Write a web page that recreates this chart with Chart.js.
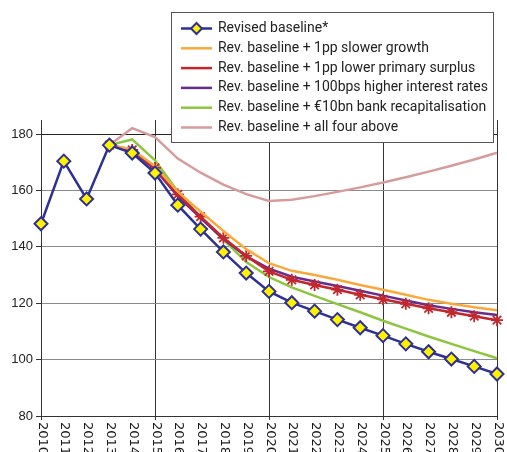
<!DOCTYPE html>
<html>
<head>
<meta charset="utf-8">
<script src="https://cdn.jsdelivr.net/npm/chart.js@4.4.1/dist/chart.umd.min.js"></script>
<style>
  html, body { margin: 0; padding: 0; background: #fff; }
</style>
</head>
<body>
<canvas id="grafico" width="507" height="452"></canvas>
<script>
const years = ["2010", "2011", "2012", "2013", "2014", "2015", "2016", "2017", "2018", "2019", "2020",
  "2021", "2022", "2023", "2024", "2025", "2026", "2027", "2028", "2029", "2030"];

const baseline = [148.2, 170.4, 157.0, 176.1, 173.3, 166.2, 154.8, 146.3, 138.2, 130.7, 124.2,
  120.2, 117.2, 114.2, 111.3, 108.5, 105.6, 102.8, 100.2, 97.6, 94.9];
const slowerGrowth = [null, null, null, 176.1, 174.6, 168.6, 159.6, 152.5, 145.6, 139.2, 134.2,
  131.5, 130.0, 128.3, 126.5, 124.8, 123.0, 121.2, 119.8, 118.6, 117.5];
const lowerSurplus = [null, null, null, 176.1, 174.4, 168.0, 158.6, 150.7, 143.2, 136.8, 131.3,
  128.3, 126.5, 124.8, 123.0, 121.4, 119.8, 118.2, 116.8, 115.4, 114.0];
const higherRates = [null, null, null, 176.1, 174.0, 167.5, 158.0, 150.2, 142.8, 136.6, 132.3,
  129.4, 127.7, 126.1, 124.4, 122.7, 121.0, 119.3, 118.0, 116.8, 115.8];
const bankRecap = [null, null, null, 176.1, 178.1, 170.7, 159.6, 150.5, 142.6, 134.6, 129.3,
  125.6, 122.6, 119.7, 116.8, 113.8, 111.0, 108.2, 105.6, 103.0, 100.5];
const allFour = [null, null, null, 176.1, 182.1, 178.9, 171.3, 166.3, 162.1, 158.7, 156.3,
  156.7, 158.0, 159.5, 161.1, 162.8, 164.7, 166.7, 168.8, 171.0, 173.4];

const seriesNames = [
  "Revised baseline*",
  "Rev. baseline + 1pp slower growth",
  "Rev. baseline + 1pp lower primary surplus",
  "Rev. baseline + 100bps higher interest rates",
  "Rev. baseline + €10bn bank recapitalisation",
  "Rev. baseline + all four above"
];
const yTicks = [80, 100, 120, 140, 160, 180];

const navy = '#2E3192';
const cores = [navy, '#F9A93B', '#C1272D', '#662D91', '#8CC63F', '#D69B9B'];

// legenda desenhada por cima do grafico, como no original
const legendaBox = {
  id: 'legendaBox',
  afterDraw(chart) {
    const ctx = chart.ctx;
    ctx.save();
    const x0 = 171, y0 = 12, w = 322, h = 130;
    ctx.fillStyle = '#fff';
    ctx.fillRect(x0, y0, w, h);
    ctx.strokeStyle = '#555';
    ctx.lineWidth = 1;
    ctx.strokeRect(x0 + 0.5, y0 + 0.5, w, h);

    ctx.font = '14px Roboto';
    const k = Math.min(1, 270 / ctx.measureText(seriesNames[3]).width);

    seriesNames.forEach((nome, i) => {
      const y = 28.5 + i * 19.8;
      ctx.strokeStyle = cores[i];
      ctx.lineWidth = 2.5;
      ctx.beginPath();
      ctx.moveTo(181, y);
      ctx.lineTo(212, y);
      ctx.stroke();
      if (i === 0) {
        ctx.beginPath();
        ctx.moveTo(196.5, y - 5.5);
        ctx.lineTo(202, y);
        ctx.lineTo(196.5, y + 5.5);
        ctx.lineTo(191, y);
        ctx.closePath();
        ctx.fillStyle = '#FFF200';
        ctx.fill();
        ctx.lineWidth = 2;
        ctx.strokeStyle = navy;
        ctx.stroke();
      }
      ctx.save();
      ctx.translate(218, y);
      ctx.scale(k, 1);
      ctx.fillStyle = '#222';
      ctx.textBaseline = 'middle';
      ctx.fillText(nome, 0, 0);
      ctx.restore();
    });

    // rotulos dos anos, lidos de cima para baixo
    const xs = chart.scales.x;
    ctx.font = '13px "DejaVu Sans"';
    ctx.fillStyle = '#1a1a1a';
    ctx.textAlign = 'left';
    ctx.textBaseline = 'middle';
    years.forEach((ano, i) => {
      ctx.save();
      ctx.translate(xs.getPixelForValue(i) + 1, xs.top + 6);
      ctx.rotate(Math.PI / 2);
      ctx.fillText(ano, 0, 0);
      ctx.restore();
    });
    ctx.restore();
  }
};

const linha = (dados, i, extra) => Object.assign({
  label: seriesNames[i],
  data: dados,
  borderColor: cores[i],
  backgroundColor: cores[i],
  borderWidth: 2.5,
  pointRadius: 0,
  tension: 0,
  spanGaps: false
}, extra || {});

const ctx = document.getElementById('grafico').getContext('2d');
const chart = new Chart(ctx, {
  type: 'line',
  data: {
    labels: years,
    datasets: [
      linha(baseline, 0, {
        pointStyle: 'rectRot', pointRadius: 6.5, pointBorderWidth: 2,
        pointBackgroundColor: '#FFF200', pointBorderColor: navy
      }),
      linha(slowerGrowth, 1),
      linha(lowerSurplus, 2, {
        pointStyle: 'star', pointRadius: 6, pointBorderWidth: 1.8,
        pointBorderColor: cores[2]
      }),
      linha(higherRates, 3),
      linha(bankRecap, 4),
      linha(allFour, 5)
    ]
  },
  options: {
    responsive: false,
    animation: false,
    layout: { padding: { top: 120, right: 10, left: 0, bottom: 0 } },
    plugins: {
      legend: { display: false },
      tooltip: { enabled: false }
    },
    scales: {
      x: {
        type: 'category',
        offset: false,
        grid: {
          color: c => (c.index % 5 === 0 ? '#333' : 'rgba(0,0,0,0)'),
          tickLength: 4
        },
        border: { color: '#333' },
        ticks: { display: false, autoSkip: false },
        afterFit: s => { s.height = 36; }
      },
      y: {
        min: 80,
        max: 185,
        afterBuildTicks: s => { s.ticks = yTicks.map(v => ({ value: v })); },
        grid: {
          color: c => (c.tick && c.tick.value === 180 ? '#222' : '#8a8a8a'),
          tickColor: '#333',
          tickLength: 5
        },
        border: { color: '#333' },
        ticks: {
          font: { family: 'Liberation Sans', size: 13 },
          color: '#222',
          padding: 3
        },
        afterFit: s => { s.width = 41; }
      }
    }
  },
  plugins: [legendaBox]
});
</script>
</body>
</html>
